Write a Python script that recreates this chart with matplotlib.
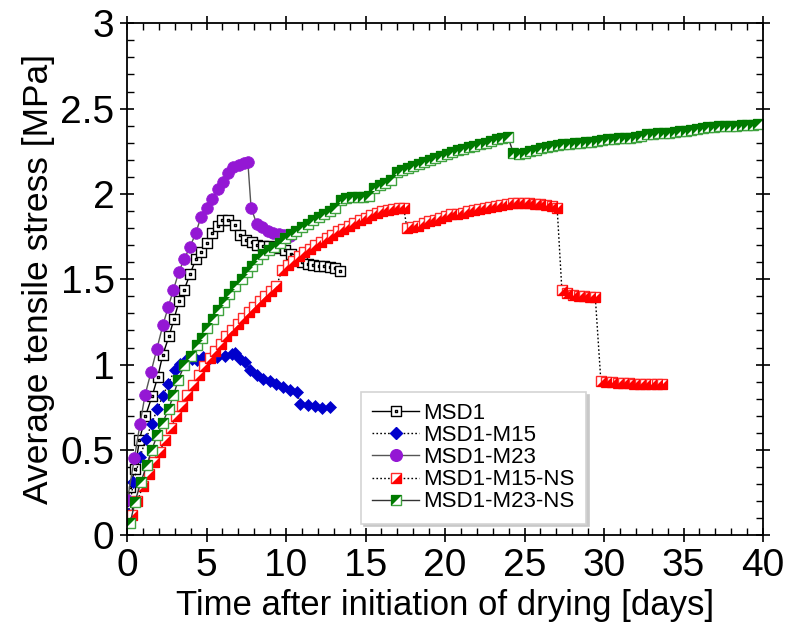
import matplotlib
matplotlib.use("Agg")
import matplotlib.pyplot as plt
from matplotlib import font_manager
from matplotlib.path import Path
from matplotlib.lines import Line2D
from matplotlib.legend_handler import HandlerTuple
from matplotlib.ticker import MultipleLocator

# ---- data ----
msd1_x = [0.0, 0.19, 0.5, 0.78, 1.15, 1.57, 1.93, 2.24, 2.64, 2.96, 3.27, 3.6, 3.96, 4.34,
          4.67, 5.0, 5.35, 5.7, 6.0, 6.37, 6.8, 7.1, 7.5, 7.85, 8.2, 8.55, 8.9, 9.25, 9.6,
          9.95, 10.3, 10.65, 11.0, 11.35, 11.7, 12.05, 12.4, 12.75, 13.1, 13.4]
msd1_y = [0.18, 0.28, 0.39, 0.557, 0.697, 0.814, 0.927, 1.055, 1.166, 1.27, 1.37, 1.44, 1.53,
          1.62, 1.66, 1.71, 1.77, 1.81, 1.85, 1.845, 1.82, 1.76, 1.73, 1.72, 1.70, 1.695, 1.695,
          1.69, 1.685, 1.67, 1.65, 1.62, 1.60, 1.59, 1.585, 1.58, 1.575, 1.57, 1.565, 1.55]

m15_x = [0.08, 0.4, 0.82, 1.2, 1.55, 1.9, 2.24, 2.6, 3.0, 3.33, 3.75, 4.1, 4.4, 4.8, 5.2,
         5.68, 6.16, 6.58, 6.8, 7.1, 7.45, 7.74, 8.15, 8.57, 9.0, 9.4, 9.83, 10.25, 10.67,
         10.9, 11.4, 11.8, 12.25, 12.77]
m15_y = [0.127, 0.31, 0.46, 0.566, 0.654, 0.738, 0.814, 0.889, 0.967, 1.006, 1.035, 1.03,
         1.025, 1.045, 1.04, 1.045, 1.05, 1.06, 1.07, 1.035, 1.015, 0.967, 0.937, 0.915,
         0.903, 0.889, 0.869, 0.854, 0.842, 0.772, 0.765, 0.755, 0.748, 0.75]

m23_x = [0.02, 0.46, 0.82, 1.13, 1.51, 1.87, 2.25, 2.6, 2.92, 3.25, 3.6, 3.96, 4.32, 4.65,
         5.0, 5.37, 5.7, 6.04, 6.37, 6.69, 7.04, 7.36, 7.6, 7.8, 8.15, 8.5, 8.85, 9.2, 9.55,
         9.9, 10.25]
m23_y = [0.205, 0.45, 0.654, 0.82, 0.957, 1.09, 1.23, 1.34, 1.44, 1.54, 1.62, 1.69, 1.77,
         1.865, 1.92, 1.97, 2.03, 2.07, 2.12, 2.16, 2.17, 2.18, 2.185, 1.92, 1.826, 1.805,
         1.785, 1.77, 1.765, 1.76, 1.755]

m15ns_x = [0.3, 0.65, 1.0, 1.35, 1.7, 2.05, 2.4, 2.75, 3.1, 3.45, 3.8, 4.15, 4.5, 4.85, 5.2,
           5.55, 5.9, 6.25, 6.6, 6.95, 7.3, 7.65, 8.0, 8.35, 8.7, 9.05, 9.4, 9.75, 10.1,
           10.45, 10.8, 11.15, 11.5, 11.85, 12.2, 12.55, 12.9, 13.25, 13.6, 13.95, 14.3,
           14.65, 15.0, 15.35, 15.7, 16.05, 16.4, 16.75, 17.1, 17.4, 17.6, 17.95, 18.3,
           18.65, 19.0, 19.35, 19.7, 20.05, 20.4, 20.75, 21.1, 21.45, 21.8, 22.15, 22.5,
           22.85, 23.2, 23.55, 23.9, 24.25, 24.6, 24.95, 25.3, 25.65, 26.0, 26.35, 26.7,
           27.05, 27.35, 27.7, 28.05, 28.4, 28.75, 29.1, 29.45, 29.8, 30.15, 30.5, 30.85,
           31.2, 31.55, 31.9, 32.25, 32.6, 32.95, 33.3, 33.65]
m15ns_y = [0.12, 0.2, 0.29, 0.36, 0.43, 0.49, 0.56, 0.63, 0.70, 0.76, 0.82, 0.88, 0.94, 0.99,
           1.04, 1.08, 1.12, 1.165, 1.205, 1.24, 1.275, 1.31, 1.34, 1.37, 1.40, 1.43, 1.46,
           1.555, 1.585, 1.61, 1.635, 1.66, 1.68, 1.70, 1.72, 1.74, 1.76, 1.78, 1.795, 1.81,
           1.83, 1.845, 1.86, 1.875, 1.89, 1.90, 1.905, 1.91, 1.915, 1.92, 1.80, 1.805, 1.815,
           1.83, 1.84, 1.85, 1.86, 1.87, 1.88, 1.885, 1.89, 1.90, 1.905, 1.91, 1.915, 1.925,
           1.93, 1.935, 1.94, 1.945, 1.945, 1.945, 1.945, 1.94, 1.94, 1.935, 1.93, 1.92,
           1.435, 1.42, 1.41, 1.40, 1.40, 1.395, 1.395, 0.905, 0.90, 0.90, 0.895, 0.89, 0.89,
           0.885, 0.885, 0.885, 0.885, 0.885, 0.885]

m23ns_x = [0.19, 0.5, 0.86, 1.24, 1.55, 1.9, 2.24, 2.62, 2.92, 3.23, 3.6, 4.0, 4.38, 4.7,
           5.05, 5.39, 5.74, 6.1, 6.44, 6.8, 7.2, 7.53, 7.84, 8.2, 8.57, 8.9, 9.25, 9.6,
           9.95, 10.3, 10.65, 11.0, 11.35, 11.7, 12.05, 12.4, 12.75, 13.1, 13.45, 13.8,
           14.15, 14.5, 14.85, 15.2, 15.55, 15.9, 16.25, 16.6, 16.95, 17.3, 17.65, 18.0,
           18.35, 18.7, 19.05, 19.4, 19.75, 20.1, 20.45, 20.8, 21.15, 21.5, 21.85, 22.2,
           22.55, 22.9, 23.25, 23.6, 23.95, 24.3, 24.65, 25.0, 25.35, 25.7, 26.05, 26.4,
           26.75, 27.1, 27.45, 27.8, 28.15, 28.5, 28.85, 29.2, 29.55, 29.9, 30.25, 30.6,
           30.95, 31.3, 31.65, 32.0, 32.35, 32.7, 33.05, 33.4, 33.75, 34.1, 34.45, 34.8,
           35.15, 35.5, 35.85, 36.2, 36.55, 36.9, 37.25, 37.6, 37.95, 38.3, 38.65, 39.0,
           39.35, 39.7]
m23ns_y = [0.07, 0.195, 0.31, 0.41, 0.50, 0.586, 0.658, 0.742, 0.82, 0.912, 0.996, 1.048,
           1.113, 1.158, 1.217, 1.27, 1.32, 1.367, 1.415, 1.46, 1.50, 1.54, 1.58, 1.62, 1.65,
           1.67, 1.69, 1.71, 1.74, 1.765, 1.785, 1.805, 1.825, 1.845, 1.865, 1.885, 1.90,
           1.915, 1.965, 1.975, 1.98, 1.98, 1.985, 1.99, 2.035, 2.05, 2.065, 2.08, 2.13, 2.14,
           2.15, 2.165, 2.175, 2.19, 2.20, 2.21, 2.225, 2.235, 2.245, 2.255, 2.265, 2.275,
           2.28, 2.29, 2.30, 2.31, 2.32, 2.33, 2.335, 2.24, 2.235, 2.24, 2.25, 2.26, 2.27,
           2.275, 2.28, 2.285, 2.29, 2.295, 2.30, 2.30, 2.305, 2.305, 2.31, 2.315, 2.32, 2.32,
           2.325, 2.325, 2.33, 2.335, 2.34, 2.35, 2.35, 2.355, 2.36, 2.36, 2.365, 2.37, 2.37,
           2.375, 2.38, 2.385, 2.39, 2.395, 2.40, 2.40, 2.40, 2.40, 2.405, 2.405, 2.405, 2.41]

labels = ["MSD1", "MSD1-M15", "MSD1-M23", "MSD1-M15-NS", "MSD1-M23-NS"]

# ---- fonts ----
names = {f.name for f in font_manager.fontManager.ttflist}
narrow = "Liberation Sans Narrow" if "Liberation Sans Narrow" in names else "Liberation Sans"
plt.rcParams["font.family"] = ["Liberation Sans", "DejaVu Sans"]

# ---- custom markers ----
sq = [(-1, -1), (1, -1), (1, 1), (-1, 1), (-1, -1)]
dot = [(-0.14, -0.14), (0.14, -0.14), (0.14, 0.14), (-0.14, 0.14), (-0.14, -0.14)]
dot_square = Path(sq + dot, [Path.MOVETO] + [Path.LINETO] * 3 + [Path.CLOSEPOLY]
                  + [Path.MOVETO] + [Path.LINETO] * 3 + [Path.CLOSEPOLY])
tri_lr = Path([(1, -1), (1, 1), (-1, -1), (1, -1)], closed=True)   # lower-right half
tri_ul = Path([(-1, 1), (1, 1), (-1, -1), (-1, 1)], closed=True)   # upper-left half

MS = 7.9
DOTTED = (0, (1.2, 1.6))

fig = plt.figure(figsize=(7.94, 6.29), dpi=100)
ax = fig.add_axes([0.16, 0.149, 0.801, 0.814])

ax.plot(msd1_x, msd1_y, color="black", lw=1.0, marker=dot_square, ms=MS,
        mfc="white", mec="black", mew=1.0)
ax.plot(m15_x, m15_y, color="black", lw=1.0, ls=DOTTED, marker="D", ms=6.6,
        mfc="#0000cc", mec="#0000cc", mew=0.5)
ax.plot(m23_x, m23_y, color="#555555", lw=1.0, marker="o", ms=8.4,
        mfc="#9417d4", mec="#9417d4", mew=0.5)

ax.plot(m15ns_x, m15ns_y, color="black", lw=1.0, ls=DOTTED, marker="s", ms=MS,
        mfc="white", mec="#ff2a2a", mew=1.0)
ax.plot(m15ns_x, m15ns_y, ls="none", marker=tri_lr, ms=MS, mfc="#ff0000", mec="none")

ax.plot(m23ns_x, m23ns_y, color="#333333", lw=1.0, marker="s", ms=MS,
        mfc="white", mec="#3fa33f", mew=1.0)
ax.plot(m23ns_x, m23ns_y, ls="none", marker=tri_ul, ms=MS, mfc="#007a00", mec="none")

ax.set_xlim(0, 40)
ax.set_ylim(0, 3)
ax.xaxis.set_major_locator(MultipleLocator(5))
ax.xaxis.set_minor_locator(MultipleLocator(1))
ax.set_yticks([0, 0.5, 1, 1.5, 2, 2.5, 3])
ax.set_yticklabels(["0", "0.5", "1", "1.5", "2", "2.5", "3"])
ax.yaxis.set_minor_locator(MultipleLocator(0.1))
ax.tick_params(which="major", direction="inout", length=10, width=1.2,
               top=True, right=True, labelsize=28, pad=4)
ax.tick_params(which="minor", direction="in", length=5, width=1.0, top=True, right=True)
for lab in ax.get_xticklabels() + ax.get_yticklabels():
    lab.set_family(narrow)
for s in ax.spines.values():
    s.set_linewidth(1.3)

ax.set_xlabel("Time after initiation of drying [days]", fontsize=25, family=narrow, labelpad=4)
ax.set_ylabel("Average tensile stress [MPa]", fontsize=25.5, family=narrow, labelpad=4)

# ---- legend ----
h1 = Line2D([], [], color="black", lw=1.0, marker=dot_square, ms=MS, mfc="white", mec="black")
h2 = Line2D([], [], color="black", lw=1.0, ls=DOTTED, marker="D", ms=6.6,
            mfc="#0000cc", mec="#0000cc")
h3 = Line2D([], [], color="#555555", lw=1.0, marker="o", ms=8.4, mfc="#9417d4", mec="#9417d4")
h4a = Line2D([], [], color="black", lw=1.0, ls=DOTTED, marker="s", ms=MS,
             mfc="white", mec="#ff2a2a")
h4b = Line2D([], [], ls="none", marker=tri_lr, ms=MS, mfc="#ff0000", mec="none")
h5a = Line2D([], [], color="#333333", lw=1.0, marker="s", ms=MS, mfc="white", mec="#3fa33f")
h5b = Line2D([], [], ls="none", marker=tri_ul, ms=MS, mfc="#007a00", mec="none")
leg = ax.legend([h1, h2, h3, (h4a, h4b), (h5a, h5b)], labels,
                handler_map={tuple: HandlerTuple(ndivide=1, pad=0)},
                loc="upper left", bbox_to_anchor=(0.368, 0.28), borderaxespad=0,
                fontsize=16, handlelength=2.1, handletextpad=0.2, labelspacing=0.05,
                borderpad=0.5, fancybox=False, shadow={"color": "#c8c8c8", "alpha": 1},
                framealpha=1, edgecolor="#d4d4d4")
leg.get_frame().set_linewidth(1.2)

fig.savefig("out.png", dpi=100, facecolor="white")
